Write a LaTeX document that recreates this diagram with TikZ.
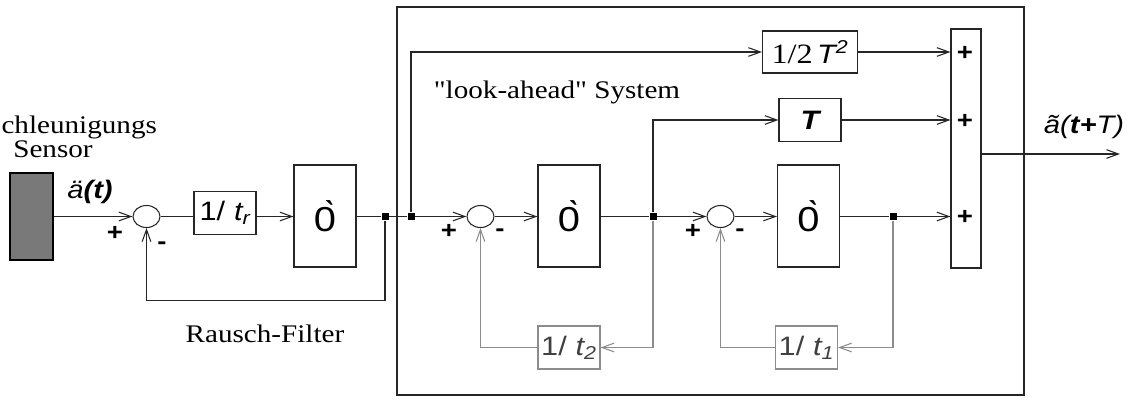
\documentclass[tikz,border=0pt]{standalone}
\usepackage{fontspec}
\setmainfont{Liberation Serif}[FakeStretch=1.15,Ligatures=TeXOff]
\newfontfamily\hv{Liberation Sans}[FakeStretch=1.15]
\usetikzlibrary{arrows.meta,shapes.geometric}

\begin{document}
\begin{tikzpicture}[x=0.75pt,y=-0.75pt,line width=0.8pt,draw=black!85,
  >={Straight Barb[length=9pt,width=6.5pt]},
  gainbox/.style={draw,inner sep=0pt,minimum width=46.5pt,minimum height=32.25pt,font=\hv\fontsize{20}{22}\selectfont},
  intbox/.style={draw,inner sep=0pt,minimum width=46.5pt,minimum height=76.5pt,font=\hv\fontsize{26}{28}\selectfont},
  sumnode/.style={draw,ellipse,inner sep=0pt,minimum width=20.25pt,minimum height=16.5pt},
  dot/.style={fill=black,inner sep=0pt,minimum size=5.25pt},
  sign/.style={font=\hv\bfseries\fontsize{18}{18}\selectfont},
  fb/.style={draw=gray!90},
  txt/.style={font=\fontsize{19}{21}\selectfont},
  lbl/.style={font=\hv\fontsize{19}{21}\selectfont}]
\useasboundingbox (0,0) rectangle (1129,401);
% sensor and noise filter
\node[draw=black,fill=gray!95!black,minimum width=32.25pt,minimum height=65.25pt,inner sep=0pt] (sensor) at (31.5,216.5) {};
\node[txt,anchor=base west,inner sep=0pt] (sensA) at (1,133) {chleunigungs};
\node[txt,anchor=base] (sensB) at (53,157) {Sensor};
\node[lbl] (acc) at (90,192) {\itshape\"a\bfseries(t)};
\node[sumnode] (sum1) at (146.5,216.5) {};
\node[sign] (p1) at (115,233) {+};
\node[sign] (m1) at (162,246) {-};
\node[gainbox] (tr) at (225,213) {1/\,\,\itshape t\textsubscript{r}};
\node[intbox] (int1) at (325,216) {\`0};
\node[dot] (j1) at (385,216.5) {};
\node[txt,anchor=base] (rf) at (265,342) {Rausch-Filter};
% look-ahead system
\draw (397,7) rectangle (1024,395);
\node[txt,anchor=base] (la) at (557,98) {"look-ahead" System};
\node[dot] (j2) at (411,216.5) {};
\node[gainbox,minimum width=71.25pt,minimum height=31.5pt] (half) at (810,52) {{\rmfamily\fontsize{21}{23}\selectfont 1/2}\,{\itshape T\textsuperscript{2}}};
\node[gainbox] (Tb) at (810,120) {\bfseries\itshape T};
\node[sumnode] (sum2) at (480.5,216.5) {};
\node[sign] (p2) at (449,231) {+};
\node[sign] (m2) at (500,233) {-};
\node[intbox] (int2) at (569,216) {\`0};
\node[dot] (j3) at (653,216.5) {};
\node[gainbox,fb,text=black!75] (t2) at (569,347.5) {1/\,\,\itshape t\textsubscript{2}};
\node[sumnode] (sum3) at (720.5,216.5) {};
\node[sign] (p3) at (693,231) {+};
\node[sign] (m3) at (740,233) {-};
\node[intbox] (int3) at (808.5,216) {\`0};
\node[dot] (j4) at (893,216.5) {};
\node[gainbox,fb,text=black!75] (t1) at (806.5,347.5) {1/\,\,\itshape t\textsubscript{1}};
\node[draw,inner sep=0pt,minimum width=22.5pt,minimum height=179.25pt] (bar) at (966,148.5) {};
\foreach \y [count=\i] in {53,121,217} \node[sign] (bp\i) at (965,\y) {+};
\coordinate (out) at (1120,154);
\node[lbl] (res) at (1084,127) {\itshape\~a(\bfseries t+\mdseries T)};
% connections
\draw[->] (sensor.east) -- (sum1.west);
\draw (sum1.east) -- (sum1.east -| tr.west);
\draw[->] (tr.east |- sum1) -- (int1.west |- sum1);
\draw (int1.east |- j1) -- (j1) -- (j2);
\draw[->] (j1) -- ++(0,84) -| (sum1.south);
\draw[->] (j2) |- (half.west);
\draw[->] (j2) -- (sum2.west);
\draw[->] (sum2.east) -- (int2.west |- sum2);
\draw (int2.east |- j3) -- (j3);
\draw[->] (j3) -- (sum3.west);
\draw[->] (j3) |- (Tb.west);
\draw[->] (sum3.east) -- (int3.west |- sum3);
\draw (int3.east |- j4) -- (j4);
\draw[->] (j4) -- (j4 -| bar.west);
\draw[->] (half.east) -- (half.east -| bar.west);
\draw[->] (Tb.east) -- (Tb.east -| bar.west);
\draw[->] (bar.east |- out) -- (out);
% inner feedback loops
\draw[fb,->] (j3) |- (t2.east);
\draw[fb,->] (t2.west) -| (sum2.south);
\draw[fb,->] (j4) |- (t1.east);
\draw[fb,->] (t1.west) -| (sum3.south);
\foreach \j in {j1,j2,j3,j4} \node[dot] at (\j) {};
\end{tikzpicture}
\end{document}
